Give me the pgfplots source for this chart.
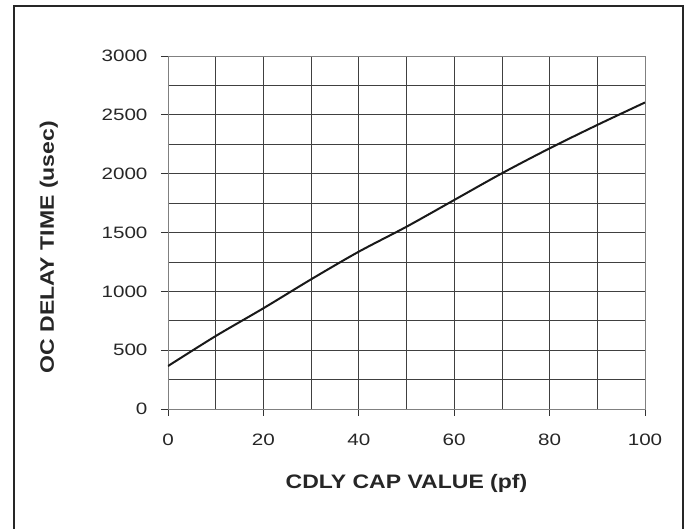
\documentclass[border=0pt]{standalone}
\usepackage{fontspec}
\setmainfont{Liberation Sans}[FakeStretch=1.25]
\newfontfamily\labelfont{Liberation Sans}[FakeStretch=1.18]
\usepackage{pgfplots}
\pgfplotsset{compat=1.18}
\begin{document}
\begin{tikzpicture}[x=1pt,y=1pt]
\path[use as bounding box] (0,0) rectangle (689,529);
\draw[line width=2pt, black!85] (14,-10) -- (14,523) -- (683,523) -- (683,-10);
\begin{axis}[at={(168pt,120pt)}, anchor=south west, scale only axis,
  width=477pt, height=353pt,
  xmin=0, xmax=100, ymin=0, ymax=3000,
  xtick={0,20,...,100}, ytick={0,500,...,3000},
  minor xtick={10,30,...,90}, minor ytick={250,750,...,2750},
  grid=both,
  grid style={black!75, line width=0.8pt},
  minor grid style={black!75, line width=0.8pt},
  major grid style={black!75, line width=0.8pt},
  axis line style={black!50, line width=0.8pt},
  tick pos=left, tick align=outside,
  major tick length=7pt, minor tick length=0pt,
  tick style={black!80, line width=0.8pt},
  /pgf/number format/assume math mode=true,
  /pgf/number format/1000 sep={},
  scaled y ticks=false,
  ticklabel style={font=\fontsize{16.5}{18}\selectfont, text=black!85},
  xticklabel style={yshift=-14pt},
  yticklabel style={xshift=-10pt},
  xlabel={CDLY CAP VALUE (pf)},
  ylabel={OC DELAY TIME (usec)},
  xlabel style={font=\labelfont\bfseries\fontsize{19.5}{22}\selectfont, at={(axis description cs:0.5,-0.21)}, anchor=center, text=black!85},
  ylabel style={font=\labelfont\bfseries\fontsize{19.5}{22}\selectfont, at={(axis description cs:-0.25,0.458)}, anchor=center, text=black!85},
]
\addplot[black!90, line width=2pt, smooth] coordinates {
  (0,365) (10,620) (20,856) (30,1102) (40,1337) (50,1549)
  (60,1776) (70,2003) (80,2215) (90,2414) (100,2605)
};
\end{axis}
\end{tikzpicture}
\end{document}
